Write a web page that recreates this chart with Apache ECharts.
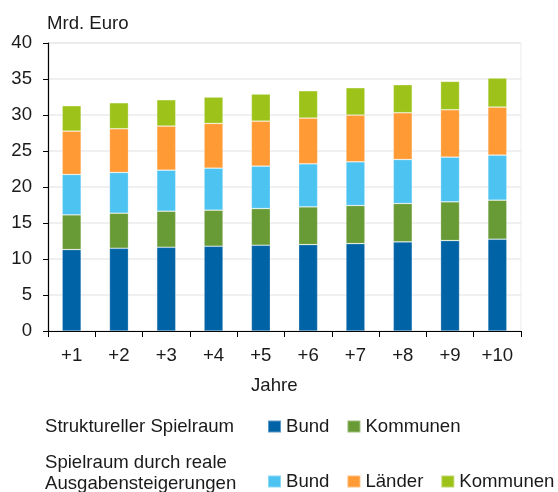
<!DOCTYPE html>
<html>
<head>
<meta charset="utf-8">
<script src="https://cdn.jsdelivr.net/npm/echarts@6/dist/echarts.min.js"></script>
<style>
  html, body { margin: 0; padding: 0; background: #fff; }
  #chart { width: 558px; height: 492px; }
</style>
</head>
<body>
<div id="chart"></div>
<script>
// Kategorien und Werte (Mrd. Euro)
var jahre = ['+1', '+2', '+3', '+4', '+5', '+6', '+7', '+8', '+9', '+10'];
var bundStrukturell = [11.31, 11.49, 11.63, 11.77, 11.91, 12.00, 12.14, 12.38, 12.56, 12.75];
var kommunenStrukturell = [4.82, 4.87, 5.01, 5.01, 5.10, 5.24, 5.29, 5.33, 5.38, 5.42];
var bundReal = [5.61, 5.66, 5.70, 5.84, 5.89, 5.98, 6.07, 6.11, 6.21, 6.26];
var laenderReal = [6.02, 6.07, 6.12, 6.21, 6.25, 6.35, 6.49, 6.49, 6.58, 6.67];
var kommunenReal = [3.53, 3.61, 3.66, 3.66, 3.76, 3.80, 3.80, 3.90, 3.94, 4.03];
var yTicks = [0, 5, 10, 15, 20, 25, 30, 35, 40];

var font = 'Arial, "Liberation Sans", sans-serif';
var textColor = '#1a1a1a';
var fs = 18.6;

function bar(name, data, color) {
  return {
    name: name,
    type: 'bar',
    stack: 'gesamt',
    barWidth: 19,
    data: data,
    itemStyle: { color: color, borderColor: 'rgba(255,255,255,0.35)', borderWidth: 0.7 }
  };
}

var myChart = echarts.init(document.getElementById('chart'));
var option = {
  animation: false,
  textStyle: { fontFamily: font, color: textColor },
  grid: {
    left: 48, right: 37, top: 43, bottom: 161,
    show: true, borderColor: '#ebebeb', borderWidth: 1
  },
  xAxis: {
    type: 'category',
    data: jahre,
    axisLine: { lineStyle: { color: '#000', width: 1.2 } },
    axisTick: { show: true, length: 6, lineStyle: { color: '#000' } },
    axisLabel: { fontSize: fs, color: textColor, margin: 15, fontFamily: font }
  },
  yAxis: {
    type: 'value',
    min: yTicks[0],
    max: yTicks[yTicks.length - 1],
    interval: 5,
    axisLine: { show: true, lineStyle: { color: '#000', width: 1.2 } },
    axisTick: { show: true, length: 5, lineStyle: { color: '#000' } },
    axisLabel: { fontSize: fs, color: textColor, margin: 16, fontFamily: font },
    splitLine: { lineStyle: { color: '#ebebeb', width: 1.5 } }
  },
  legend: [
    {
      data: ['Bund', 'Kommunen'],
      left: 267, top: 417, padding: 0,
      itemWidth: 13, itemHeight: 12, itemGap: 17,
      selectedMode: false,
      icon: 'rect',
      formatter: function (n) { return n.trim(); },
      textStyle: { fontSize: fs, color: textColor, fontFamily: font }
    },
    {
      data: ['Bund ', 'Länder', 'Kommunen '],
      left: 267, top: 472, padding: 0,
      itemWidth: 13, itemHeight: 12, itemGap: 17,
      selectedMode: false,
      icon: 'rect',
      formatter: function (n) { return n.trim(); },
      textStyle: { fontSize: fs, color: textColor, fontFamily: font }
    }
  ],
  graphic: [
    { type: 'text', left: 47, top: 14, style: { text: 'Mrd. Euro', fontSize: fs, fill: textColor, fontFamily: font } },
    { type: 'text', left: 251, top: 376, style: { text: 'Jahre', fontSize: fs, fill: textColor, fontFamily: font } },
    { type: 'text', left: 45, top: 417, style: { text: 'Struktureller Spielraum', fontSize: fs, fill: textColor, fontFamily: font } },
    { type: 'text', left: 45, top: 452, style: { text: 'Spielraum durch reale\nAusgabensteigerungen', fontSize: fs, lineHeight: 21, fill: textColor, fontFamily: font } }
  ],
  series: [
    bar('Bund', bundStrukturell, '#0063a6'),
    bar('Kommunen', kommunenStrukturell, '#689a35'),
    bar('Bund ', bundReal, '#4dc3f1'),
    bar('Länder', laenderReal, '#ff9a35'),
    bar('Kommunen ', kommunenReal, '#9dc31b')
  ]
};
myChart.setOption(option);
</script>
</body>
</html>
